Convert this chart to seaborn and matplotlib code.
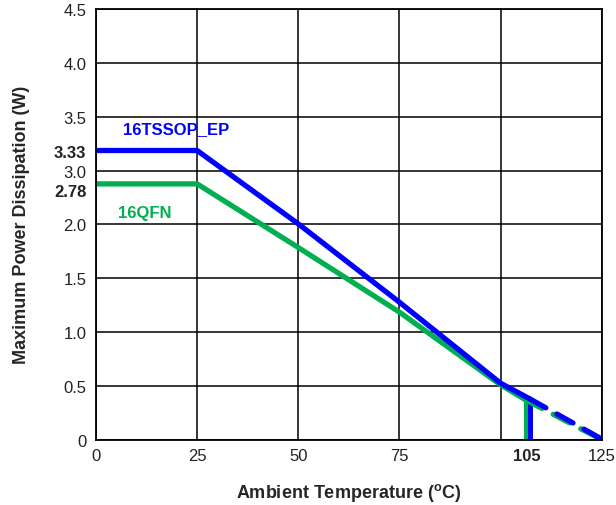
import numpy as np
import pandas as pd
import seaborn as sns
import matplotlib.pyplot as plt

# x values (deg C) and y values in grid units of the drawn axis
# (the original axis skips the 2.5 label, so labels and positions differ)
tssop_x = [0, 25, 50, 75, 100, 107.2]
tssop_y = [2.686, 2.686, 2.005, 1.277, 0.525, 0.38]
tssop_dash_x = [107.2, 125.3]
tssop_dash_y = [0.38, 0]

qfn_x = [0, 25, 50, 75, 100, 106.2]
qfn_y = [2.376, 2.376, 1.785, 1.185, 0.51, 0.37]
qfn_dash_x = [106.2, 125]
qfn_dash_y = [0.37, 0]

x_grid = [0, 25, 50, 75, 100, 125]
x_labels = ["0", "25", "50", "75", "", "125"]
y_grid = [0, 0.5, 1.0, 1.5, 2.0, 2.5, 3.0, 3.5, 4.0]
y_labels = ["0", "0.5", "1.0", "1.5", "2.0", "3.0", "3.5", "4.0", "4.5"]
bold_x_pos = [106.5]
bold_x_labels = ["105"]
bold_y_pos = [2.686, 2.32]
bold_y_labels = ["3.33", "2.78"]

blue = "#0000FF"
green = "#00B050"

sns.set_style("white")
plt.rcParams['font.family'] = ['Liberation Sans', 'DejaVu Sans']
plt.rcParams['mathtext.fontset'] = 'custom'
plt.rcParams['mathtext.rm'] = 'Liberation Sans'
plt.rcParams['mathtext.bf'] = 'Liberation Sans:bold'

fig = plt.figure(figsize=(6.16, 5.06), dpi=100)
ax = fig.add_axes([0.1558, 0.1290, 0.9768 - 0.1558, 0.9802 - 0.1290])

# vertical drop lines at the max temperature
ax.plot([qfn_x[-1], qfn_x[-1]], [0, qfn_y[-1]], color=green, lw=3.6, solid_capstyle='butt')
ax.plot([tssop_x[-1], tssop_x[-1]], [0, tssop_y[-1]], color=blue, lw=3.6, solid_capstyle='butt')

sns.lineplot(x=qfn_x, y=qfn_y, ax=ax, color=green, lw=3.8, sort=False)
sns.lineplot(x=qfn_dash_x, y=qfn_dash_y, ax=ax, color=green, lw=3.8, sort=False,
             linestyle=(0, (3.5, 2.4)), dash_capstyle='round')
sns.lineplot(x=tssop_x, y=tssop_y, ax=ax, color=blue, lw=3.8, sort=False)
sns.lineplot(x=tssop_dash_x, y=tssop_dash_y, ax=ax, color=blue, lw=3.8, sort=False,
             linestyle=(0, (3.5, 2.4)), dash_capstyle='round')

ax.text(6.7, 2.887, "16TSSOP_EP", color=blue, fontsize=12, fontweight='bold', va='center')
ax.text(5.35, 2.113, "16QFN", color=green, fontsize=12, fontweight='bold', va='center')

ax.set_xlim(0, 125)
ax.set_ylim(0, 4.0)
ax.set_xticks(x_grid)
ax.set_xticklabels(x_labels)
ax.set_yticks(y_grid)
ax.set_yticklabels(y_labels)
ax.set_xticks(bold_x_pos, minor=True)
ax.set_xticklabels(bold_x_labels, minor=True, fontweight='bold')
ax.set_yticks(bold_y_pos, minor=True)
ax.set_yticklabels(bold_y_labels, minor=True, fontweight='bold')
ax.tick_params(which='both', length=0, labelsize=12, colors='#222222')
ax.tick_params(axis='y', which='both', pad=7)
ax.tick_params(axis='x', which='both', pad=6)

ax.grid(True, which='major', color='black', lw=1.1)
ax.set_axisbelow(True)
for s in ax.spines.values():
    s.set_color('black')
    s.set_linewidth(1.3)

ax.set_xlabel(r"Ambient Temperature ($^{\mathbf{o}}$C)", fontsize=13, fontweight='bold', labelpad=13)
ax.set_ylabel("Maximum Power Dissipation (W)", fontsize=13, fontweight='bold', labelpad=17)

fig.savefig("out.png", dpi=100)
